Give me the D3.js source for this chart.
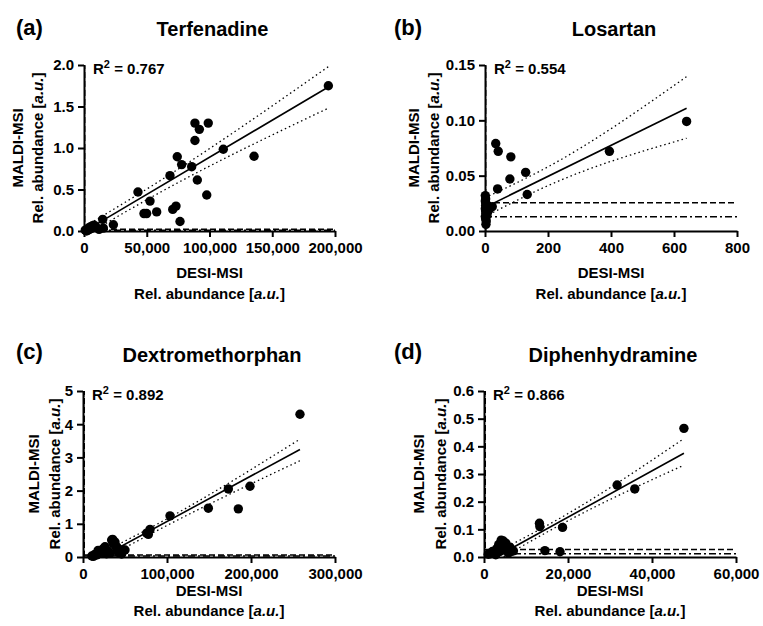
<!DOCTYPE html>
<html>
<head>
<meta charset="utf-8">
<script src="https://cdn.jsdelivr.net/npm/d3@7"></script>
<style>
  body { margin: 0; background: #fff; }
  svg text { font-family: "Liberation Sans", Arial, sans-serif; font-weight: bold; fill: #000; }
</style>
</head>
<body>
<svg id="chart" width="763" height="626"></svg>
<script>
// ---- data ----
// (a) Terfenadine
const terfX = [194700, 88400, 99000, 91900, 88400, 111000, 135500, 74300, 77800, 85800, 68500, 90300, 97800, 43000, 52600, 57900, 47800, 49900, 70700, 73300, 76500, 14900, 23400, 15400, 1000, 2500, 3500, 5000, 6500, 8000, 4000, 9500, 12000, 2000, 6000];
const terfY = [1.75, 1.30, 1.30, 1.225, 1.09, 0.985, 0.90, 0.895, 0.80, 0.775, 0.667, 0.615, 0.434, 0.47, 0.36, 0.23, 0.21, 0.21, 0.26, 0.30, 0.115, 0.14, 0.075, 0.035, 0.01, 0.02, 0.035, 0.05, 0.06, 0.07, 0.015, 0.05, 0.02, 0.0, 0.03];
const terfFitX = [8000, 194700], terfFitY = [0.065, 1.735];
const terfBandX = [8000, 60000, 194700], terfUpper = [0.12, 0.60, 1.98], terfLower = [0.01, 0.46, 1.48];
const terfLod = [0.022, 0.01], terfLodX = [500, 250];

// (b) Losartan
const losX = [640, 395, 34, 42, 82, 79, 129, 134, 40, 23, 1, 2, 1, 3, 2, 1, 2, 3, 1, 2, 4, 6, 8, 12, 3];
const losY = [0.099, 0.072, 0.079, 0.072, 0.067, 0.047, 0.053, 0.033, 0.038, 0.022, 0.032, 0.029, 0.027, 0.025, 0.023, 0.020, 0.018, 0.016, 0.013, 0.011, 0.009, 0.014, 0.017, 0.019, 0.006];
const losFitX = [0, 640], losFitY = [0.0214, 0.111];
const losBandX = [0, 200, 640], losUpper = [0.030, 0.058, 0.1395], losLower = [0.013, 0.041, 0.0838];
const losLod = [0.0256, 0.0129], losLodX = [2, 1];

// (c) Dextromethorphan
const dexX = [258300, 198800, 173000, 149200, 184900, 103600, 79800, 77800, 75800, 35300, 38100, 40500, 26200, 50000, 12300, 20200, 34100, 40000, 48000, 44000, 32100, 16300, 14000, 18000, 22000, 24000, 28000, 30000, 36000, 42000, 46000, 10500];
const dexY = [4.3, 2.13, 2.05, 1.47, 1.45, 1.24, 0.83, 0.68, 0.72, 0.53, 0.45, 0.30, 0.31, 0.21, 0.02, 0.16, 0.51, 0.26, 0.21, 0.11, 0.11, 0.06, 0.08, 0.20, 0.15, 0.25, 0.10, 0.18, 0.40, 0.15, 0.09, 0.03];
const dexFitX = [22000, 258300], dexFitY = [0.0, 3.24];
const dexBandX = [22000, 100000, 258300], dexUpper = [0.12, 1.15, 3.55], dexLower = [-0.1, 0.95, 2.90];
const dexLod = [0.06, 0.03], dexLodX = [1500, 800];

// (d) Diphenhydramine
const diphX = [47600, 31700, 35900, 13200, 13300, 18700, 14500, 18100, 4100, 4600, 1000, 1500, 2000, 2500, 3000, 3500, 5000, 5500, 6000, 6500, 7000, 3800, 4800, 2800, 5200, 6200, 5800];
const diphY = [0.465, 0.26, 0.246, 0.122, 0.11, 0.107, 0.023, 0.019, 0.061, 0.058, 0.01, 0.012, 0.02, 0.015, 0.03, 0.045, 0.04, 0.03, 0.025, 0.02, 0.022, 0.02, 0.035, 0.008, 0.05, 0.035, 0.015];
const diphFitX = [2800, 47600], diphFitY = [0.0, 0.375];
const diphBandX = [2800, 20000, 47600], diphUpper = [0.015, 0.157, 0.428], diphLower = [-0.015, 0.131, 0.332];
const diphLod = [0.027, 0.012], diphLodX = [300, 150];

const letters = ['(a)', '(b)', '(c)', '(d)'];
const titles = ['Terfenadine', 'Losartan', 'Dextromethorphan', 'Diphenhydramine'];
const r2Labels = ['0.767', '0.554', '0.892', '0.866'];
const xTicks = [[0, 50000, 100000, 150000, 200000], [0, 200, 400, 600, 800], [0, 100000, 200000, 300000], [0, 20000, 40000, 60000]];
const yTicks = [[0, 0.5, 1.0, 1.5, 2.0], [0, 0.05, 0.10, 0.15], [0, 1, 2, 3, 4, 5], [0, 0.1, 0.2, 0.3, 0.4, 0.5, 0.6]];
const yFormats = ['.1f', '.2f', 'd', '.1f'];

const panels = [
  { xs: terfX, ys: terfY, fitX: terfFitX, fitY: terfFitY, bandX: terfBandX, up: terfUpper, lo: terfLower, lod: terfLod, lodX: terfLodX,
    left: 84, right: 335, top: 65, bottom: 231, lab1: -66, lab2: -46 },
  { xs: losX, ys: losY, fitX: losFitX, fitY: losFitY, bandX: losBandX, up: losUpper, lo: losLower, lod: losLod, lodX: losLodX,
    left: 485, right: 737, top: 65, bottom: 231, lab1: -71, lab2: -51 },
  { xs: dexX, ys: dexY, fitX: dexFitX, fitY: dexFitY, bandX: dexBandX, up: dexUpper, lo: dexLower, lod: dexLod, lodX: dexLodX,
    left: 83, right: 335, top: 391, bottom: 557, lab1: -49, lab2: -28 },
  { xs: diphX, ys: diphY, fitX: diphFitX, fitY: diphFitY, bandX: diphBandX, up: diphUpper, lo: diphLower, lod: diphLod, lodX: diphLodX,
    left: 484, right: 736, top: 391, bottom: 557, lab1: -65, lab2: -43 }
];

const svg = d3.select('#chart');
const defs = svg.append('defs');

panels.forEach((p, i) => {
  const xMax = xTicks[i][xTicks[i].length - 1];
  const yMax = yTicks[i][yTicks[i].length - 1];
  const x = d3.scaleLinear().domain([0, xMax]).range([p.left, p.right]);
  const y = d3.scaleLinear().domain([0, yMax]).range([p.bottom, p.top]);
  const top = i < 2;

  defs.append('clipPath').attr('id', `clip${i}`)
    .append('rect').attr('x', p.left).attr('y', p.top - 2)
    .attr('width', p.right - p.left + 2).attr('height', p.bottom - p.top + 2);

  const g = svg.append('g');
  const plot = g.append('g').attr('clip-path', `url(#clip${i})`);

  // LOD lines: horizontal (MALDI) and vertical (DESI)
  const dashes = ['6,3', '7,3,2,3'];
  p.lod.forEach((v, k) => {
    plot.append('line')
      .attr('x1', x(0)).attr('x2', x(xMax)).attr('y1', y(v)).attr('y2', y(v))
      .attr('stroke', '#000').attr('stroke-width', 1.5).attr('stroke-dasharray', dashes[k]);
  });
  p.lodX.forEach((v, k) => {
    plot.append('line')
      .attr('x1', x(v)).attr('x2', x(v)).attr('y1', y(0)).attr('y2', y(yMax))
      .attr('stroke', '#000').attr('stroke-width', 1.5).attr('stroke-dasharray', dashes[k]);
  });

  // confidence band
  const band = d3.line().x(d => x(d[0])).y(d => y(d[1])).curve(d3.curveMonotoneX);
  [p.up, p.lo].forEach(arr => {
    plot.append('path')
      .attr('d', band(p.bandX.map((v, k) => [v, arr[k]])))
      .attr('fill', 'none').attr('stroke', '#000').attr('stroke-width', 1.3)
      .attr('stroke-dasharray', '1.5,3');
  });

  // regression line
  plot.append('path')
    .attr('d', d3.line().x(d => x(d[0])).y(d => y(d[1]))(p.fitX.map((v, k) => [v, p.fitY[k]])))
    .attr('fill', 'none').attr('stroke', '#000').attr('stroke-width', 1.6);

  // points
  g.append('g').selectAll('circle')
    .data(p.xs.map((v, k) => [v, p.ys[k]]))
    .join('circle')
    .attr('cx', d => x(d[0])).attr('cy', d => y(d[1])).attr('r', 4.7).attr('fill', '#000');

  // axes
  const xAxis = g.append('g').attr('transform', `translate(0,${p.bottom})`)
    .call(d3.axisBottom(x).tickValues(xTicks[i]).tickFormat(d3.format(',')).tickSize(6).tickPadding(5).tickSizeOuter(0));
  const yAxis = g.append('g').attr('transform', `translate(${p.left},0)`)
    .call(d3.axisLeft(y).tickValues(yTicks[i]).tickFormat(d3.format(yFormats[i])).tickSize(6).tickPadding(4).tickSizeOuter(0));
  [xAxis, yAxis].forEach(a => {
    a.select('.domain').attr('stroke-width', 2);
    a.selectAll('.tick line').attr('stroke-width', 2);
    a.selectAll('text').attr('font-size', 15).attr('font-family', '"Liberation Sans", Arial, sans-serif').attr('font-weight', 'bold');
  });

  // R squared
  const r2 = g.append('text').attr('x', p.left + 9).attr('y', p.top + 9).attr('font-size', 15);
  r2.append('tspan').text('R');
  r2.append('tspan').attr('font-size', 11).attr('dy', -6).text('2');
  r2.append('tspan').attr('dy', 6).text(` = ${r2Labels[i]}`);

  // title and panel letter
  g.append('text').attr('x', (p.left + p.right) / 2 + 3).attr('y', top ? 36 : 362)
    .attr('text-anchor', 'middle').attr('font-size', 20).text(titles[i]);
  g.append('text').attr('x', i % 2 ? 394 : 16).attr('y', top ? 35 : 359)
    .attr('font-size', 22).text(letters[i]);

  // x axis label
  const cx = (p.left + p.right) / 2;
  g.append('text').attr('x', cx).attr('y', p.bottom + (top ? 47 : 39)).attr('text-anchor', 'middle')
    .attr('font-size', 15).text('DESI-MSI');
  const xl = g.append('text').attr('x', cx).attr('y', p.bottom + (top ? 68 : 59)).attr('text-anchor', 'middle')
    .attr('font-size', 15);
  xl.append('tspan').text('Rel. abundance [');
  xl.append('tspan').attr('font-style', 'italic').text('a.u.');
  xl.append('tspan').text(']');

  // y axis label
  const cy = (p.top + p.bottom) / 2;
  g.append('text').attr('transform', `translate(${p.left + p.lab1 + 5},${cy}) rotate(-90)`)
    .attr('text-anchor', 'middle').attr('font-size', 15).text('MALDI-MSI');
  const yl = g.append('text').attr('transform', `translate(${p.left + p.lab2 + 5},${cy}) rotate(-90)`)
    .attr('text-anchor', 'middle').attr('font-size', 15);
  yl.append('tspan').text('Rel. abundance [');
  yl.append('tspan').attr('font-style', 'italic').text('a.u.');
  yl.append('tspan').text(']');
});
</script>
</body>
</html>
